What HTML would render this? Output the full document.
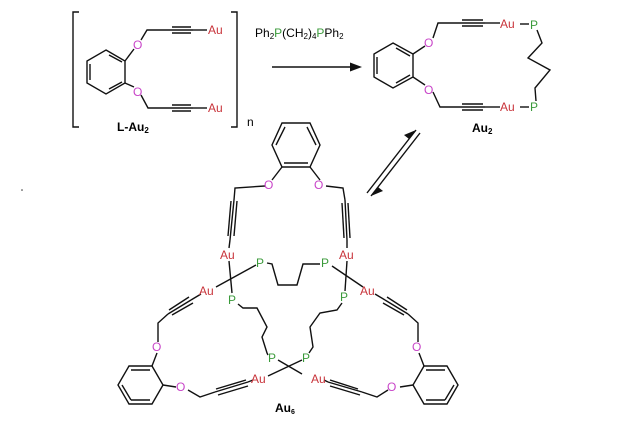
<!DOCTYPE html>
<html><head><meta charset="utf-8"><style>
html,body{margin:0;padding:0;background:#fff;}
svg{display:block;}
text{font-family:"Liberation Sans",sans-serif;font-size:12px;}
.au{fill:#c8333a;}.o{fill:#c844c8;}.p{fill:#3a9a3a;}
</style></head><body>
<svg width="640" height="428" viewBox="0 0 640 428" xmlns="http://www.w3.org/2000/svg">
<g stroke="#111" stroke-width="1.4" fill="none">
<polyline points="79,12 73,12 73,127 79,127"/>
<polyline points="231,12 237,12 237,127 231,127"/>
<polygon points="106,50 125,61 125,83 106,94 87,83 87,61"/>
<line x1="90" y1="64" x2="90" y2="80"/><line x1="109" y1="55" x2="122" y2="62"/><line x1="109" y1="89" x2="122" y2="82"/>
<line x1="125" y1="61" x2="134" y2="49"/><line x1="125" y1="83" x2="134" y2="87"/>
<polyline points="141,40 147,30 170,30"/><line x1="170" y1="30" x2="193" y2="30"/><line x1="172" y1="27" x2="191" y2="27"/><line x1="172" y1="33" x2="191" y2="33"/><line x1="193" y1="30" x2="207" y2="30"/>
<polyline points="141,95 148,108 170,108"/><line x1="170" y1="108" x2="193" y2="108"/><line x1="172" y1="105" x2="191" y2="105"/><line x1="172" y1="111" x2="191" y2="111"/><line x1="193" y1="108" x2="207" y2="108"/>
<line x1="272" y1="67" x2="354" y2="67"/>
<polygon points="393,43 413,54 413,77 393,88 374,77 374,54"/>
<line x1="377" y1="57" x2="377" y2="74"/><line x1="396" y1="48" x2="410" y2="56"/><line x1="396" y1="83" x2="410" y2="75"/>
<line x1="413" y1="54" x2="425" y2="46"/><line x1="413" y1="77" x2="425" y2="85"/>
<polyline points="433,38 438,23 460,23"/><line x1="460" y1="23" x2="485" y2="23"/><line x1="462" y1="20" x2="483" y2="20"/><line x1="462" y1="26" x2="483" y2="26"/><line x1="485" y1="23" x2="500" y2="23"/>
<polyline points="433,92 440,107 460,107"/><line x1="460" y1="107" x2="485" y2="107"/><line x1="462" y1="104" x2="483" y2="104"/><line x1="462" y1="110" x2="483" y2="110"/><line x1="485" y1="107" x2="500" y2="107"/>
<line x1="520" y1="24" x2="529" y2="24"/><line x1="520" y1="107" x2="529" y2="107"/>
<polyline points="537,30 542,43 528,58 550,70 535,88 536,101"/>
<line x1="367" y1="193" x2="416" y2="130"/>
<line x1="420" y1="133" x2="371" y2="196"/>
<polygon points="282,167 310,167 320,145 310,123 282,123 272,145"/>
<line x1="284" y1="163" x2="308" y2="163"/><line x1="276" y1="145" x2="285" y2="127"/><line x1="316" y1="145" x2="307" y2="127"/>
<line x1="282" y1="167" x2="272" y2="180"/><line x1="310" y1="167" x2="320" y2="180"/>
<polyline points="265,186 235,188 234,200"/><line x1="234" y1="200" x2="230" y2="240"/><line x1="231" y1="201" x2="228" y2="236"/><line x1="237" y1="201" x2="234" y2="236"/><line x1="230" y1="240" x2="229" y2="248"/>
<polyline points="326,186 343,188 345,200"/><line x1="345" y1="200" x2="347" y2="240"/><line x1="342" y1="203" x2="344" y2="238"/><line x1="348" y1="203" x2="350" y2="238"/><line x1="347" y1="240" x2="347" y2="248"/>
<line x1="229" y1="261" x2="232" y2="293"/><line x1="256" y1="265" x2="216" y2="287"/>
<line x1="347" y1="261" x2="345" y2="291"/><line x1="332" y1="266" x2="363" y2="287"/>
<polyline points="267,263 272,264 278,285 297,285 303,264 320,264"/>
<polyline points="238,304 243,308 257,308 267,327 262,337 267,353 268,355"/>
<polyline points="342,303 337,310 320,313 310,327 313,347 309,353"/>
<line x1="278" y1="360" x2="302" y2="374"/><line x1="302" y1="360" x2="268" y2="376"/>
<line x1="201" y1="294" x2="191" y2="300"/><line x1="191" y1="300" x2="168" y2="314"/><line x1="193" y1="303" x2="172" y2="315"/><line x1="189" y1="297" x2="169" y2="310"/>
<polyline points="168,314 158,323 158,342"/>
<polygon points="129,366 152,366 163,385 152,404 129,404 118,385"/>
<line x1="131" y1="370" x2="150" y2="370"/><line x1="122" y1="385" x2="131" y2="400"/><line x1="131" y1="400" x2="150" y2="400"/>
<line x1="152" y1="366" x2="157" y2="353"/><line x1="163" y1="385" x2="176" y2="387"/>
<polyline points="188,390 200,397 215,392"/><line x1="215" y1="392" x2="248" y2="382"/><line x1="216" y1="389" x2="246" y2="380"/><line x1="218" y1="395" x2="248" y2="386"/><line x1="248" y1="382" x2="253" y2="380"/>
<line x1="375" y1="294" x2="385" y2="300"/><line x1="385" y1="300" x2="408" y2="314"/><line x1="383" y1="303" x2="404" y2="315"/><line x1="387" y1="297" x2="407" y2="310"/>
<polyline points="408,314 418,323 418,342"/>
<polygon points="424,366 447,366 458,385 447,404 424,404 413,385"/>
<line x1="426" y1="370" x2="445" y2="370"/><line x1="454" y1="385" x2="445" y2="400"/><line x1="426" y1="400" x2="445" y2="400"/>
<line x1="424" y1="366" x2="419" y2="353"/><line x1="413" y1="385" x2="400" y2="387"/>
<polyline points="388,390 377,397 362,392"/><line x1="362" y1="392" x2="328" y2="382"/><line x1="360" y1="395" x2="330" y2="386"/><line x1="358" y1="389" x2="330" y2="380"/><line x1="328" y1="382" x2="324" y2="380"/>
</g>
<path d="M362,67 L350,62.5 L350,71.5 Z" fill="#111"/>
<path d="M416,130 L404,135 L409,139 Z" fill="#111"/>
<path d="M371,196 L383,191 L378,187 Z" fill="#111"/>
<text class="o" x="133" y="49">O</text><text class="o" x="133" y="96">O</text>
<text class="au" x="208" y="34">Au</text><text class="au" x="208" y="112">Au</text>
<text x="117" y="131" font-weight="bold" font-size="11">L-Au<tspan font-size="8" dy="2">2</tspan></text>
<text x="247" y="126">n</text>
<text x="255" y="37" font-size="11">Ph<tspan font-size="8" dy="2">2</tspan><tspan dy="-2" class="p">P</tspan>(CH<tspan font-size="8" dy="2">2</tspan><tspan dy="-2">)</tspan><tspan font-size="8" dy="2">4</tspan><tspan dy="-2" class="p">P</tspan>Ph<tspan font-size="8" dy="2">2</tspan></text>
<text class="o" x="424" y="47">O</text><text class="o" x="424" y="94">O</text>
<text class="au" x="500" y="28">Au</text><text class="au" x="500" y="111">Au</text>
<text class="p" x="530" y="29">P</text><text class="p" x="530" y="111">P</text>
<text x="472" y="132" font-weight="bold" font-size="11">Au<tspan font-size="8" dy="2">2</tspan></text>
<text class="o" x="264" y="189">O</text><text class="o" x="314" y="189">O</text>
<text class="au" x="220" y="259">Au</text><text class="au" x="339" y="259">Au</text>
<text class="p" x="256" y="267">P</text><text class="p" x="321" y="267">P</text>
<text class="au" x="199" y="295">Au</text><text class="au" x="360" y="295">Au</text>
<text class="p" x="228" y="304">P</text><text class="p" x="340" y="301">P</text>
<text class="o" x="152" y="351">O</text><text class="o" x="412" y="351">O</text>
<text class="p" x="268" y="362">P</text><text class="p" x="302" y="362">P</text>
<text class="o" x="176" y="391">O</text><text class="o" x="387" y="391">O</text>
<text class="au" x="251" y="383">Au</text><text class="au" x="311" y="383">Au</text>
<text x="275" y="412" font-weight="bold" font-size="10">Au<tspan font-size="7" dy="2">6</tspan></text>
<circle cx="22" cy="190" r="0.8" fill="#333"/>
</svg>
</body></html>
